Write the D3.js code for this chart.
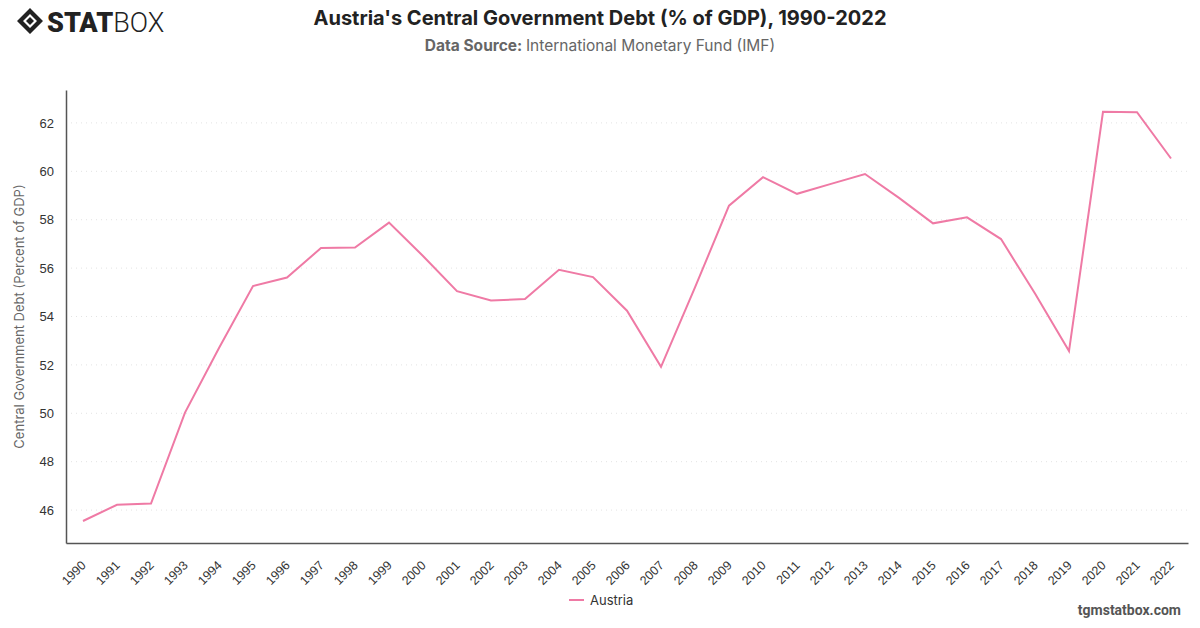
<!DOCTYPE html>
<html>
<head>
<meta charset="utf-8">
<script src="https://cdn.jsdelivr.net/npm/d3@7"></script>
<style>
  body { margin: 0; background: #fff; }
  svg { font-family: Inter, Roboto, "Noto Sans", sans-serif; }
</style>
</head>
<body>
<div id="chart"></div>
<script>
const years = [1990, 1991, 1992, 1993, 1994, 1995, 1996, 1997, 1998, 1999, 2000,
  2001, 2002, 2003, 2004, 2005, 2006, 2007, 2008, 2009, 2010, 2011, 2012, 2013,
  2014, 2015, 2016, 2017, 2018, 2019, 2020, 2021, 2022];
const austria = [45.55, 46.22, 46.27, 50.03, 52.7, 55.26, 55.61, 56.83, 56.85, 57.88, 56.5,
  55.05, 54.66, 54.72, 55.93, 55.63, 54.24, 51.92, 55.2, 58.58, 59.76, 59.07, 59.48, 59.89,
  58.9, 57.85, 58.1, 57.2, 54.95, 52.57, 62.46, 62.44, 60.53];
const yTicks = [46, 48, 50, 52, 54, 56, 58, 60, 62];

const width = 1200;
const height = 628;
const margin = { top: 90, right: 12, bottom: 85, left: 66 };

const svg = d3.select("#chart")
  .append("svg")
  .attr("width", width)
  .attr("height", height);

const xScale = d3.scalePoint()
  .domain(years)
  .range([margin.left, width - margin.right])
  .padding(0.5);

const yScale = d3.scaleLinear()
  .domain([44.64, 63.36])
  .range([height - margin.bottom, margin.top]);

// grid
svg.append("g")
  .selectAll("line")
  .data(yTicks)
  .enter()
  .append("line")
  .attr("x1", margin.left)
  .attr("x2", width - margin.right)
  .attr("y1", d => yScale(d))
  .attr("y2", d => yScale(d))
  .style("stroke", "#e3e3e3")
  .style("stroke-dasharray", "1,4");

// y axis
const yAxis = svg.append("g")
  .attr("transform", `translate(${margin.left},0)`)
  .call(d3.axisLeft(yScale).tickValues(yTicks).tickSize(0).tickPadding(12));
yAxis.select(".domain").style("stroke", "#555").style("stroke-width", 1.5);
yAxis.selectAll(".tick text")
  .style("font-size", "13px")
  .style("fill", "#333");

// x axis
const xAxis = svg.append("g")
  .attr("transform", `translate(0,${height - margin.bottom})`)
  .call(d3.axisBottom(xScale).tickSize(0).tickPadding(10));
xAxis.select(".domain").style("stroke", "#555").style("stroke-width", 1.5);
xAxis.selectAll(".tick text")
  .style("font-size", "12.5px")
  .style("fill", "#333")
  .attr("text-anchor", "end")
  .attr("x", 0)
  .attr("y", 0)
  .attr("dy", "0.35em")
  .attr("transform", "translate(0,20) rotate(-45)");

// line
const line = d3.line()
  .x((d, i) => xScale(years[i]))
  .y(d => yScale(d));

svg.append("path")
  .datum(austria)
  .attr("d", line)
  .style("fill", "none")
  .style("stroke", "#ef7aa5")
  .style("stroke-width", 2);

// y label
svg.append("text")
  .attr("transform", `translate(24,${(margin.top + height - margin.bottom) / 2}) rotate(-90)`)
  .attr("text-anchor", "middle")
  .style("font-size", "13px")
  .style("fill", "#666")
  .text("Central Government Debt (Percent of GDP)");

// title
svg.append("text")
  .attr("x", 600)
  .attr("y", 25)
  .attr("text-anchor", "middle")
  .style("font-size", "20px")
  .style("font-weight", "bold")
  .style("fill", "#222")
  .text("Austria's Central Government Debt (% of GDP), 1990-2022");

const sub = svg.append("text")
  .attr("x", 600)
  .attr("y", 51)
  .attr("text-anchor", "middle")
  .style("font-size", "15.5px")
  .style("fill", "#666");
sub.append("tspan").style("font-weight", "bold").text("Data Source: ");
sub.append("tspan").text("International Monetary Fund (IMF)");

// legend
const legend = svg.append("g").attr("transform", "translate(569,600)");
legend.append("line")
  .attr("x1", 0).attr("x2", 15)
  .style("stroke", "#ef7aa5")
  .style("stroke-width", 2);
legend.append("text")
  .attr("x", 21)
  .attr("dy", "0.35em")
  .style("font-size", "13px")
  .style("fill", "#333")
  .text("Austria");

// watermark
svg.append("text")
  .attr("x", 1181)
  .attr("y", 615)
  .attr("text-anchor", "end")
  .style("font-family", "Roboto, sans-serif")
  .style("font-size", "14px")
  .style("font-weight", "bold")
  .style("fill", "#555")
  .text("tgmstatbox.com");

// logo
const logo = svg.append("g").attr("transform", "translate(17,8)");
logo.append("path")
  .attr("d", "M13,0 L26,13 L13,26 L0,13 Z M13,6 L20,13 L13,20 L6,13 Z")
  .attr("fill-rule", "evenodd")
  .style("fill", "#222");
logo.append("path")
  .attr("d", "M13,9 L17,13 L13,17 L9,13 Z")
  .style("fill", "#222");
logo.append("text")
  .attr("x", 30)
  .attr("y", 24)
  .style("font-family", "Roboto, sans-serif")
  .style("font-size", "27px")
  .style("font-weight", "900")
  .style("fill", "#222")
  .text("STAT")
  .append("tspan")
  .style("font-weight", "300")
  .text("BOX");
</script>
</body>
</html>
